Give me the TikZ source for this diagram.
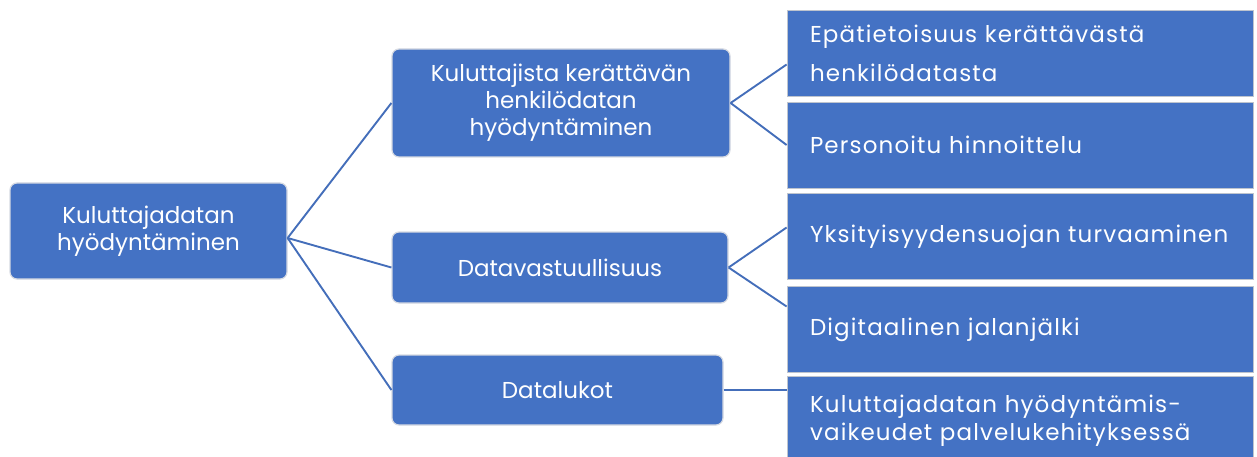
\documentclass[tikz,border=0pt]{standalone}
\usepackage{fontspec}
\setmainfont{Poppins}
\newfontfamily\leaffont{Poppins}[LetterSpace=5]
\usetikzlibrary{positioning}
\definecolor{cBox}{RGB}{68, 114, 196}
\definecolor{bBox}{RGB}{214, 218, 226}
\definecolor{bLeaf}{RGB}{190, 196, 206}
\definecolor{cLink}{RGB}{68, 110, 186}

\begin{document}
\begin{tikzpicture}[
    x=1pt, y=-1pt,
    font=\fontsize{23}{27}\selectfont,
    block/.style={
        fill=cBox,
        draw=bBox,
        line width=1.2pt,
        rounded corners=7pt,
        text=white,
        align=center,
        inner sep=0pt
    },
    leaf/.style={
        fill=cBox,
        draw=bLeaf,
        line width=0.8pt,
        text=white,
        align=left,
        inner sep=0pt,
        minimum width=466pt,
        text width=420pt,
        minimum height=86pt,
        font=\leaffont\fontsize{23}{28}\selectfont
    },
    link/.style={draw=cLink, line width=1.9pt}
]
\useasboundingbox (0,0) rectangle (1257,457);

% Root
\node[block, minimum width=277pt, minimum height=96pt] (root) at (148.5, 231) {
    Kuluttajadatan\\
    hyödyntäminen
};

% Level 1
\node[block, minimum width=338pt, minimum height=108pt] (kerays) at (561, 103) {
    Kuluttajista kerättävän\\
    henkilödatan\\
    hyödyntäminen
};
\node[block, minimum width=336pt, minimum height=71pt] (vastuu) at (560, 267.5) {Datavastuullisuus};
\node[block, minimum width=331pt, minimum height=70pt] (lukot) at (557.5, 390) {Datalukot};

% Level 2
\node[leaf, font=\leaffont\fontsize{23}{39}\selectfont] (epatieto) at (1020, 53.5) {Epätietoisuus kerättävästä\\henkilödatasta};
\node[leaf] (hinnoittelu) at (1020, 145) {Personoitu hinnoittelu};
\node[leaf] (suoja) at (1020, 236.5) {Yksityisyydensuojan turvaaminen};
\node[leaf] (jalanjalki) at (1020, 329.5) {Digitaalinen jalanjälki};
\node[leaf, minimum height=90pt] (vaikeudet) at (1020, 421) {Kuluttajadatan hyödyntämis-\\vaikeudet palvelukehityksessä};

\draw[link] ([yshift=-7pt]root.east) -- (kerays.west);
\draw[link] ([yshift=-7pt]root.east) -- (vastuu.west);
\draw[link] ([yshift=-7pt]root.east) -- (lukot.west);

\draw[link] (kerays.east) -- ([yshift=-11pt]epatieto.west);
\draw[link] (kerays.east) -- (hinnoittelu.west);
\draw[link] (vastuu.east) -- ([yshift=9pt]suoja.west);
\draw[link] (vastuu.east) -- ([yshift=23pt]jalanjalki.west);
\draw[link] (lukot.east) -- (lukot.east -| vaikeudet.west);

\end{tikzpicture}
\end{document}
